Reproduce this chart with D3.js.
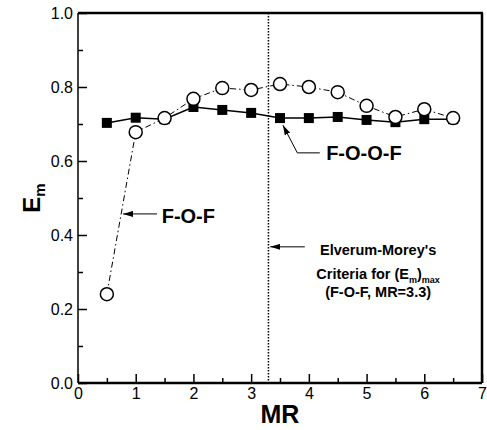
<!DOCTYPE html>
<html><head><meta charset="utf-8">
<script src="https://cdn.jsdelivr.net/npm/d3@7"></script>
<style>body{margin:0;background:#fff}svg{display:block}text{font-family:"Liberation Sans",Arial,sans-serif;fill:#000}</style>
</head><body>
<script>
const mr = [0.5,1,1.5,2,2.5,3,3.5,4,4.5,5,5.5,6,6.5];
const emFOF = [0.24,0.678,0.716,0.768,0.797,0.792,0.808,0.80,0.786,0.749,0.719,0.74,0.716];
const emFOOF = [0.703,0.717,0.713,0.746,0.738,0.73,0.716,0.716,0.719,0.711,0.705,0.713,0.713];
const xTicks = [0,1,2,3,4,5,6,7];
const yTicks = [0.0,0.2,0.4,0.6,0.8,1.0];
const criteriaMR = 3.3;

const W=487,H=430;
const svg=d3.select("body").append("svg").attr("width",W).attr("height",H);
const x=d3.scaleLinear().domain([0,7]).range([78,482]);
const y=d3.scaleLinear().domain([0,1]).range([383,13]);

svg.append("defs").append("marker").attr("id","ah").attr("viewBox","0 0 10 6")
 .attr("refX",10).attr("refY",3).attr("markerWidth",10).attr("markerHeight",6)
 .attr("markerUnits","userSpaceOnUse").attr("orient","auto")
 .append("path").attr("d","M0,0L10,3L0,6Z").attr("fill","#000");

// axes with inward ticks
const xAx=svg.append("g").attr("transform",`translate(0,${y(0)})`)
 .call(d3.axisBottom(x).tickValues(d3.range(0,7.01,0.5)).tickSize(-5).tickFormat(""));
xAx.selectAll(".tick line").filter(d=>d%1===0).attr("y2",-9);
xAx.select(".domain").remove();
xAx.selectAll(".tick line").attr("stroke","#000").attr("stroke-width",1.5);
const xLab=svg.append("g").attr("transform",`translate(0,${y(0)})`)
 .call(d3.axisBottom(x).tickValues(xTicks).tickSize(0).tickPadding(5).tickFormat(d3.format("d")));
xLab.select(".domain").remove();
xLab.selectAll("text").style("font-size","16px");

const yAx=svg.append("g").attr("transform",`translate(${x(0)},0)`)
 .call(d3.axisLeft(y).tickValues(d3.range(0,1.001,0.1)).tickSize(-5).tickFormat(""));
yAx.selectAll(".tick line").filter(d=>Math.round(d*10)%2===0).attr("x2",9);
yAx.select(".domain").remove();
yAx.selectAll(".tick line").attr("stroke","#000").attr("stroke-width",1.5);
const yLab=svg.append("g").attr("transform",`translate(${x(0)},0)`)
 .call(d3.axisLeft(y).tickValues(yTicks).tickSize(0).tickPadding(5).tickFormat(d3.format(".1f")));
yLab.select(".domain").remove();
yLab.selectAll("text").style("font-size","16px");

// frame
svg.append("line").attr("x1",x(0)).attr("x2",x(0)).attr("y1",y(1)).attr("y2",y(0)).attr("stroke","#000").attr("stroke-width",1.5);
svg.append("line").attr("x1",x(0)).attr("x2",x(7)).attr("y1",y(0)).attr("y2",y(0)).attr("stroke","#000").attr("stroke-width",2.5);
svg.append("line").attr("x1",x(0)).attr("x2",x(7)+1).attr("y1",y(1)).attr("y2",y(1)).attr("stroke","#000").attr("stroke-width",2.5);
svg.append("line").attr("x1",x(7)).attr("x2",x(7)).attr("y1",y(1)).attr("y2",y(0)).attr("stroke","#000").attr("stroke-width",2.5);

// criteria line
svg.append("line").attr("x1",x(criteriaMR)).attr("x2",x(criteriaMR)).attr("y1",y(1)).attr("y2",y(0))
 .attr("stroke","#000").attr("stroke-width",1.5).attr("stroke-dasharray","1.5,1.5");

const line=d3.line().x(d=>x(d[0])).y(d=>y(d[1]));
const fof=mr.map((m,i)=>[m,emFOF[i]]);
const foof=mr.map((m,i)=>[m,emFOOF[i]]);

svg.append("path").datum(foof).attr("d",line).attr("fill","none").attr("stroke","#000").attr("stroke-width",1.5);
svg.selectAll(".sq").data(foof).enter().append("rect").attr("class","sq")
 .attr("x",d=>x(d[0])-5).attr("y",d=>y(d[1])-5).attr("width",10).attr("height",10).attr("fill","#000");

svg.append("path").datum(fof).attr("d",line).attr("fill","none").attr("stroke","#000").attr("stroke-width",1)
 .attr("stroke-dasharray","6,3,1.5,3");
svg.selectAll(".ci").data(fof).enter().append("circle").attr("class","ci")
 .attr("cx",d=>x(d[0])).attr("cy",d=>y(d[1])).attr("r",6.5).attr("fill","#fff").attr("stroke","#000").attr("stroke-width",1.5);

// annotations
svg.append("polyline").attr("points",[[4.19,0.622],[3.80,0.622],[3.55,0.697]].map(p=>[x(p[0]),y(p[1])].join(",")).join(" "))
 .attr("fill","none").attr("stroke","#000").attr("stroke-width",1).attr("marker-end","url(#ah)");
svg.append("text").attr("x",x(4.3)).attr("y",y(0.603)).attr("font-weight","bold").style("font-size","20px").text("F-O-O-F");

svg.append("line").attr("x1",x(1.37)).attr("y1",y(0.457)).attr("x2",x(0.78)).attr("y2",y(0.457))
 .attr("stroke","#000").attr("stroke-width",1).attr("marker-end","url(#ah)");
svg.append("text").attr("x",x(1.45)).attr("y",y(0.432)).attr("font-weight","bold").style("font-size","20px").text("F-O-F");

svg.append("line").attr("x1",x(3.93)).attr("y1",y(0.368)).attr("x2",x(3.33)).attr("y2",y(0.368))
 .attr("stroke","#000").attr("stroke-width",1).attr("marker-end","url(#ah)");
const cx=x(5.2);
svg.append("text").attr("x",cx).attr("y",y(0.346)).attr("text-anchor","middle").attr("font-weight","bold").style("font-size","14.5px").text("Elverum-Morey's");
const t2=svg.append("text").attr("x",cx).attr("y",y(0.281)).attr("text-anchor","middle").attr("font-weight","bold").style("font-size","14.5px");
t2.append("tspan").text("Criteria for (E");
t2.append("tspan").attr("dy",4).style("font-size","9px").text("m");
t2.append("tspan").attr("dy",-4).text(")");
t2.append("tspan").attr("dy",4).style("font-size","9px").text("max");
svg.append("text").attr("x",cx).attr("y",y(0.232)).attr("text-anchor","middle").attr("font-weight","bold").style("font-size","14.5px").text("(F-O-F, MR=3.3)");

// axis titles
svg.append("text").attr("x",(x(0)+x(7))/2).attr("y",423).attr("text-anchor","middle").attr("font-weight","bold").style("font-size","25px").text("MR");
const yt=svg.append("text").attr("transform",`translate(40,${y(0.5)}) rotate(-90)`).attr("text-anchor","middle").attr("font-weight","bold").style("font-size","24px");
yt.append("tspan").text("E");
yt.append("tspan").attr("dy",5).style("font-size","15px").text("m");
</script>
</body></html>
